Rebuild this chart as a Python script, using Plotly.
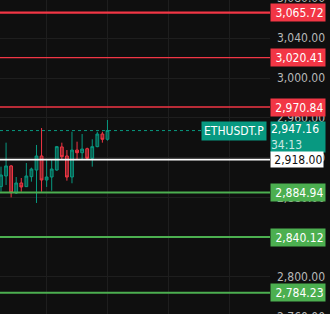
import plotly.graph_objects as go

# ---- data ----
candle_idx = list(range(22))
opens = [2890.8, 2901.5, 2911.6, 2884.4, 2894.5, 2890.8, 2900.8, 2907.5, 2921.6, 2897.5, 2900.5,
         2907.5, 2930.7, 2921.6, 2900.5, 2927.6, 2924.9, 2928.9, 2919.3, 2931.0, 2943.7, 2938.4]
highs = [2910.9, 2935.0, 2912.6, 2900.5, 2899.5, 2914.6, 2909.9, 2932.7, 2949.7, 2917.6, 2917.6,
         2931.7, 2935.0, 2927.6, 2946.0, 2936.0, 2943.7, 2930.0, 2938.4, 2946.0, 2946.0, 2957.8]
lows = [2885.7, 2892.5, 2880.0, 2883.4, 2885.7, 2890.5, 2895.8, 2874.4, 2885.7, 2890.5, 2886.7,
        2906.8, 2917.6, 2896.8, 2894.2, 2918.3, 2917.6, 2918.3, 2910.9, 2930.4, 2935.0, 2937.0]
closes = [2902.5, 2911.6, 2884.7, 2894.5, 2890.5, 2901.5, 2908.5, 2921.6, 2897.5, 2900.5, 2908.5,
          2931.0, 2920.9, 2900.5, 2927.6, 2924.9, 2928.6, 2919.3, 2931.0, 2943.7, 2938.4, 2947.16]

level_prices = [3065.72, 3020.41, 2970.84, 2918.00, 2884.94, 2840.12, 2784.23]
level_kinds = ["res", "res", "res", "pivot", "sup", "sup", "sup"]
level_labels = ["3,065.72", "3,020.41", "2,970.84", "2,918.00", "2,884.94", "2,840.12", "2,784.23"]

symbol = "ETHUSDT.P"
last_price = 2947.16
last_label = "2,947.16"
countdown = "34:13"

y_tick_vals = [3080, 3040, 3000, 2960, 2920, 2880, 2840, 2800, 2760]
y_tick_text = ["3,080.00", "3,040.00", "3,000.00", "2,960.00", "2,920.00", "2,880.00",
               "2,840.00", "2,800.00", "2,760.00"]
x_grid_vals = [9, 21, 33, 45]

# ---- style ----
BG = "#0f0f0f"
GRID = "#1e1e1e"
UP = "#089981"
DOWN = "#F23645"
SUP = "#4CAF50"
TXT = "#b8b8b8"
FONT = "DejaVu Sans Condensed, Liberation Sans, Arial"
FS = 12
y_range = [2762.8, 3078.4]
kind_style = {
    "res": dict(line=DOWN, bg=DOWN, fg="white"),
    "sup": dict(line=SUP, bg=SUP, fg="white"),
    "pivot": dict(line="#ffffff", bg="#ffffff", fg="#111111"),
}
line_widths = [2.2, 1.2, 1.6, 1.8, 2.2, 2.0, 2.0]

fig = go.Figure()
fig.add_trace(go.Candlestick(
    x=candle_idx, open=opens, high=highs, low=lows, close=closes,
    increasing=dict(line=dict(color=UP, width=1), fillcolor="rgba(8,153,129,0.55)"),
    decreasing=dict(line=dict(color=DOWN, width=1), fillcolor="rgba(242,54,69,0.55)"),
    whiskerwidth=0, showlegend=False, hoverinfo="skip",
))

shapes = []
annotations = []
late_annotations = []

# partially visible edge tick labels
span = y_range[1] - y_range[0]
for v, t in zip(y_tick_vals, y_tick_text):
    if v > y_range[1] or v < y_range[0]:
        annotations.append(dict(xref="paper", x=1, xanchor="left", xshift=5, yref="paper",
                                y=(v - y_range[0]) / span, yanchor="middle", text=t, showarrow=False,
                                font=dict(color=TXT, size=FS, family=FONT)))

# current price dotted line
shapes.append(dict(type="line", xref="paper", x0=0, x1=202 / 270, yref="y", y0=last_price, y1=last_price,
                   line=dict(color=UP, width=1, dash="dot"), layer="above"))
# symbol label
annotations.append(dict(xref="paper", x=267 / 270, xanchor="right", yref="y", y=last_price, yanchor="middle",
                        text=symbol, showarrow=False, bgcolor=UP,
                        font=dict(color="white", size=FS, family=FONT), borderpad=2, yshift=-0.5))
# last price + countdown
annotations.append(dict(xref="paper", x=1, xanchor="left", yref="y", y=last_price, yanchor="top",
                        yshift=9.5, text=last_label + "<br><span style='color:rgba(255,255,255,0.8)'>" + countdown + "</span>",
                        showarrow=False, bgcolor=UP, align="left",
                        font=dict(color="white", size=FS, family=FONT), width=54, borderpad=0))

for p, k, lab, w in zip(level_prices, level_kinds, level_labels, line_widths):
    st = kind_style[k]
    shapes.append(dict(type="line", xref="paper", x0=0, x1=1, yref="y", y0=p, y1=p,
                       line=dict(color=st["line"], width=w), layer="above"))
    ann = dict(xref="paper", x=1, xanchor="left", yref="y", y=p, yanchor="middle",
               text=lab, showarrow=False, bgcolor=st["bg"],
               font=dict(color=st["fg"], size=FS, family=FONT),
               width=51, align="right", borderpad=1.5)
    if k == "pivot":
        ann["borderpad"] = 0.5
        late_annotations.append(ann)
    else:
        annotations.insert(len(annotations) - 2, ann)

annotations.extend(late_annotations)

fig.update_layout(
    width=330, height=314, margin=dict(l=0, r=60, t=0, b=0),
    paper_bgcolor=BG, plot_bgcolor=BG,
    shapes=shapes, annotations=annotations, showlegend=False,
    boxgap=0.22,
    xaxis=dict(range=[-0.197, 53.06], tickvals=x_grid_vals, showticklabels=False, showgrid=True,
               gridcolor=GRID, gridwidth=1, zeroline=False, rangeslider=dict(visible=False),
               showline=False, fixedrange=True),
    yaxis=dict(range=y_range, side="right", tickvals=y_tick_vals, ticktext=y_tick_text,
               showgrid=True, gridcolor=GRID, gridwidth=1, zeroline=False, showline=False,
               ticks="", ticklabelstandoff=6,
               tickfont=dict(color=TXT, size=FS, family=FONT)),
)

fig.write_html("out.html")
